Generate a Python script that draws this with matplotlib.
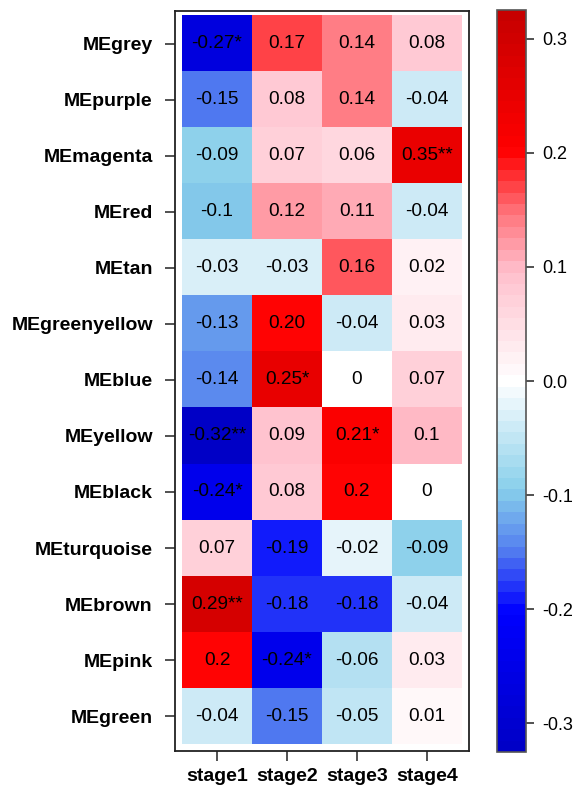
import matplotlib
matplotlib.use("Agg")
import matplotlib.pyplot as plt
import numpy as np
from matplotlib.colors import LinearSegmentedColormap, Normalize

plt.rcParams['font.family'] = ['Liberation Sans', 'DejaVu Sans']

# module eigengenes vs stage correlations
modules = ["MEgrey", "MEpurple", "MEmagenta", "MEred", "MEtan", "MEgreenyellow",
           "MEblue", "MEyellow", "MEblack", "MEturquoise", "MEbrown", "MEpink", "MEgreen"]
stages = ["stage1", "stage2", "stage3", "stage4"]

cor = np.array([
    [-0.27, 0.17, 0.14, 0.08],
    [-0.15, 0.08, 0.14, -0.04],
    [-0.09, 0.07, 0.06, 0.35],
    [-0.10, 0.12, 0.11, -0.04],
    [-0.03, -0.03, 0.16, 0.02],
    [-0.13, 0.20, -0.04, 0.03],
    [-0.14, 0.25, 0.00, 0.07],
    [-0.32, 0.09, 0.21, 0.10],
    [-0.24, 0.08, 0.20, 0.00],
    [0.07, -0.19, -0.02, -0.09],
    [0.29, -0.18, -0.18, -0.04],
    [0.20, -0.24, -0.06, 0.03],
    [-0.04, -0.15, -0.05, 0.01],
])

cell_text = [
    ["-0.27*", "0.17", "0.14", "0.08"],
    ["-0.15", "0.08", "0.14", "-0.04"],
    ["-0.09", "0.07", "0.06", "0.35**"],
    ["-0.1", "0.12", "0.11", "-0.04"],
    ["-0.03", "-0.03", "0.16", "0.02"],
    ["-0.13", "0.20", "-0.04", "0.03"],
    ["-0.14", "0.25*", "0", "0.07"],
    ["-0.32**", "0.09", "0.21*", "0.1"],
    ["-0.24*", "0.08", "0.2", "0"],
    ["0.07", "-0.19", "-0.02", "-0.09"],
    ["0.29**", "-0.18", "-0.18", "-0.04"],
    ["0.2", "-0.24*", "-0.06", "0.03"],
    ["-0.04", "-0.15", "-0.05", "0.01"],
]

zmax = 0.325
cbar_ticks = [-0.3, -0.2, -0.1, 0.0, 0.1, 0.2, 0.3]

# blue - skyblue - white - pink - red ramp, stepped like the R palette
anchors = [
    (0.0, (0.0, 0.0, 0.78)),
    (0.185, (0.0, 0.0, 1.0)),
    (0.27, (0.33, 0.50, 0.94)),
    (0.35, (0.53, 0.81, 0.92)),
    (0.5, (1.0, 1.0, 1.0)),
    (0.65, (1.0, 0.75, 0.80)),
    (0.73, (1.0, 0.45, 0.48)),
    (0.815, (1.0, 0.0, 0.0)),
    (1.0, (0.78, 0.0, 0.0)),
]
cmap = LinearSegmentedColormap.from_list("bwr_r", anchors, N=65)
cmap.set_over((0.92, 0.0, 0.0))
cmap.set_under((0.0, 0.0, 0.78))
norm = Normalize(vmin=-zmax, vmax=zmax)

W, H = 573, 790
fig = plt.figure(figsize=(W / 100, H / 100), dpi=100)

ax = fig.add_axes([175 / W, (H - 751) / H, (469 - 175) / W, (751 - 11) / H])
ax.imshow(cor, cmap=cmap, norm=norm, aspect="auto", interpolation="nearest")
ax.set_xlim(-0.6, 3.6)
ax.set_ylim(len(modules) - 0.5 + 0.12, -0.5 - 0.08)

for i in range(len(modules)):
    for j in range(len(stages)):
        ax.text(j, i, cell_text[i][j], ha="center", va="center", fontsize=13.7, color="black")

ax.set_xticks(range(len(stages)))
ax.set_xticklabels(stages, fontsize=14, fontweight="bold")
ax.set_yticks(range(len(modules)))
ax.set_yticklabels(modules, fontsize=14, fontweight="bold")
ax.tick_params(axis="y", length=7, width=1.2, pad=9, color="#333333")
ax.tick_params(axis="x", length=7, width=1.2, pad=5, color="#333333")
for sp in ax.spines.values():
    sp.set_linewidth(1.3)
    sp.set_color("#222222")

# colour key
cax = fig.add_axes([497 / W, (H - 752) / H, (526 - 497) / W, (752 - 10) / H])
cb = fig.colorbar(plt.cm.ScalarMappable(norm=norm, cmap=cmap), cax=cax, ticks=cbar_ticks)
cb.ax.set_yticklabels(["%.1f" % t for t in cbar_ticks], fontsize=13)
cb.ax.tick_params(length=6, width=1.2, pad=6, color="#333333")
cb.outline.set_linewidth(1.2)
cb.outline.set_edgecolor("#555555")

fig.savefig("out.png", dpi=100)
